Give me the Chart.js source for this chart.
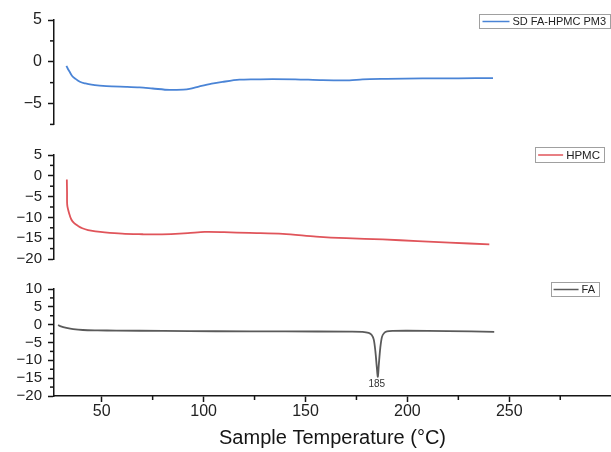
<!DOCTYPE html>
<html>
<head>
<meta charset="utf-8">
<script src="https://cdn.jsdelivr.net/npm/chart.js@4.4.1/dist/chart.umd.min.js"></script>
<style>
  html, body { margin: 0; padding: 0; background: #fff; }
  #wrap { position: relative; width: 611px; height: 452px; overflow: hidden; }
  canvas { position: absolute; left: 0; }
</style>
</head>
<body>
<div id="wrap">
  <canvas id="pm3" width="611" height="140" style="top:0px"></canvas>
  <canvas id="hpmc" width="611" height="134" style="top:140px"></canvas>
  <canvas id="fa" width="611" height="178" style="top:274px"></canvas>
</div>
<script>
// SD FA-HPMC PM3 (top panel)
const pm3Temp = [32.7, 33.5, 34.4, 35.5, 36.9, 39.3, 42, 45, 49, 55, 62, 68.6, 75, 83.3, 90, 93.1, 98, 104, 109.3, 117.6, 125, 133.8, 145, 158.4, 171.6, 178, 190, 207.4, 225, 242];
const pm3Heat = [-0.5, -0.9, -1.26, -1.7, -2.0, -2.4, -2.6, -2.75, -2.85, -2.95, -3.0, -3.07, -3.2, -3.37, -3.33, -3.25, -2.95, -2.62, -2.41, -2.15, -2.1, -2.07, -2.1, -2.2, -2.22, -2.1, -2.05, -2.0, -1.98, -1.95];

// HPMC (middle panel)
const hpmcTemp = [32.9, 33.0, 33.1, 34, 35.1, 36.5, 38.4, 40.5, 43.3, 47, 51.5, 60, 70, 76, 84, 92.3, 100.5, 110, 122.5, 138.9, 155.2, 170, 187.9, 205, 220.6, 240.2];
const hpmcHeat = [-0.9, -4, -7.07, -9, -10.5, -11.4, -12.05, -12.6, -13.05, -13.35, -13.6, -13.9, -14.05, -14.1, -14.0, -13.8, -13.5, -13.55, -13.74, -13.97, -14.6, -15.0, -15.3, -15.7, -16.05, -16.5];

// FA (bottom panel)
const faTemp = [28.6, 30, 32.7, 36, 40.8, 48, 57.2, 80, 106, 140, 171.6, 178, 181, 182.5, 183.5, 184.3, 185, 185.5, 186, 186.7, 187.5, 188.5, 190, 193, 200, 220, 242.6];
const faHeat = [-0.1, -0.5, -0.9, -1.25, -1.5, -1.6, -1.67, -1.75, -1.85, -1.9, -1.94, -2.0, -2.3, -2.9, -4.2, -7.5, -12, -14.6, -11, -6.5, -3.5, -2.4, -1.9, -1.75, -1.7, -1.8, -2.0];
const faPeaks = [185];

const xMinor = [75, 125, 175, 225, 275];

const FONT = "'Liberation Sans', Arial, sans-serif";
const INK = "#151515";
const AXIS_LEFT = 54;

function toXY(xs, ys) {
  return xs.map((x, i) => ({ x: x, y: ys[i] }));
}

const minorTicks = {
  id: "minorTicks",
  afterDraw(chart, args, opts) {
    const ctx = chart.ctx;
    ctx.save();
    ctx.strokeStyle = INK;
    ctx.lineWidth = 1.5;
    const ys = chart.scales.y;
    (opts.y || []).forEach(v => {
      const py = ys.getPixelForValue(v);
      ctx.beginPath();
      ctx.moveTo(ys.right - 4, py);
      ctx.lineTo(ys.right, py);
      ctx.stroke();
    });
    const xs = chart.scales.x;
    if (xs.options.display) {
      (opts.x || []).forEach(v => {
        const px = xs.getPixelForValue(v);
        ctx.beginPath();
        ctx.moveTo(px, xs.top);
        ctx.lineTo(px, xs.top + 4);
        ctx.stroke();
      });
    }
    ctx.restore();
  }
};

const boxLegend = {
  id: "boxLegend",
  afterDraw(chart, args, opts) {
    const ctx = chart.ctx;
    const ds = chart.data.datasets[0];
    ctx.save();
    ctx.font = opts.size + "px " + FONT;
    const tw = ctx.measureText(ds.label).width;
    const w = opts.line + 7 + tw + 3;
    const x0 = opts.right - w;
    const y0 = opts.top;
    ctx.strokeStyle = "#a0a0a0";
    ctx.lineWidth = 1;
    ctx.strokeRect(Math.round(x0) + 0.5, y0 + 0.5, Math.round(w), opts.h);
    ctx.strokeStyle = ds.borderColor;
    ctx.lineWidth = 1.5;
    ctx.beginPath();
    ctx.moveTo(x0 + 3, y0 + opts.h / 2 + 0.5);
    ctx.lineTo(x0 + 3 + opts.line, y0 + opts.h / 2 + 0.5);
    ctx.stroke();
    ctx.fillStyle = "#222";
    ctx.textBaseline = "middle";
    ctx.fillText(ds.label, x0 + opts.line + 6, y0 + opts.h / 2 + 1);
    ctx.restore();
  }
};

const peakLabel = {
  id: "peakLabel",
  afterDraw(chart, args, opts) {
    if (!opts.peaks) return;
    const ctx = chart.ctx;
    const data = chart.data.datasets[0].data;
    const low = Math.min(...data.map(p => p.y));
    ctx.save();
    ctx.font = "10px " + FONT;
    ctx.fillStyle = "#333";
    ctx.textAlign = "center";
    ctx.textBaseline = "top";
    opts.peaks.forEach(t => {
      const px = chart.scales.x.getPixelForValue(t);
      const py = chart.scales.y.getPixelForValue(low);
      ctx.fillText(String(t), px, py + 3);
    });
    ctx.restore();
  }
};

function makePanel(id, cfg) {
  const showX = !!cfg.showX;
  return new Chart(document.getElementById(id), {
    type: "line",
    data: {
      datasets: [{
        label: cfg.label,
        data: toXY(cfg.xs, cfg.ys),
        borderColor: cfg.color,
        borderWidth: 1.8,
        pointRadius: 0,
        tension: 0.3,
        fill: false
      }]
    },
    options: {
      responsive: false,
      animation: false,
      events: [],
      layout: { padding: { top: cfg.padTop, bottom: cfg.padBottom, left: 0, right: 0 } },
      plugins: {
        legend: { display: false },
        tooltip: { enabled: false },
        minorTicks: { y: cfg.yMinor, x: xMinor },
        boxLegend: cfg.legend,
        peakLabel: { peaks: cfg.peaks }
      },
      scales: {
        x: {
          type: "linear",
          min: 26.6,
          max: 299.9,
          display: showX,
          afterFit: s => { if (showX) s.height = 56; },
          ticks: {
            stepSize: 50,
            includeBounds: false,
            autoSkip: false,
            color: "#222",
            padding: 0,
            maxRotation: 0,
            font: { family: FONT, size: 16 }
          },
          grid: { drawOnChartArea: false, drawTicks: true, tickLength: 6, tickWidth: 1.5, tickColor: INK },
          border: { display: true, color: INK, width: 1.5 },
          title: {
            display: true,
            text: "Sample Temperature (°C)",
            color: "#151515",
            font: { family: FONT, size: 20 },
            padding: { top: 0, bottom: 2 }
          }
        },
        y: {
          min: cfg.yMin,
          max: cfg.yMax,
          afterFit: s => { s.width = AXIS_LEFT; },
          ticks: {
            stepSize: 5,
            includeBounds: false,
            autoSkip: false,
            color: "#222",
            padding: 6,
            font: { family: FONT, size: cfg.tickSize },
            callback: v => String(v).replace("-", "\u2212")
          },
          grid: { drawOnChartArea: false, drawTicks: true, tickLength: 6, tickWidth: 1.5, tickColor: INK },
          border: { display: true, color: INK, width: 1.5 }
        }
      }
    },
    plugins: [minorTicks, boxLegend, peakLabel]
  });
}

makePanel("pm3", {
  label: "SD FA-HPMC PM3",
  xs: pm3Temp, ys: pm3Heat,
  color: "#4a84d6",
  yMin: -7.5, yMax: 5, yMinor: [2.5, -2.5, -7.5],
  padTop: 20, padBottom: 12, tickSize: 16,
  legend: { right: 610, top: 14, h: 14, line: 27, size: 11 }
});

makePanel("hpmc", {
  label: "HPMC",
  xs: hpmcTemp, ys: hpmcHeat,
  color: "#e0545a",
  yMin: -20, yMax: 5, yMinor: [2.5, -2.5, -7.5, -12.5, -17.5],
  padTop: 14, padBottom: 11, tickSize: 15,
  legend: { right: 604, top: 7, h: 15, line: 25, size: 11.5 }
});

makePanel("fa", {
  label: "FA",
  xs: faTemp, ys: faHeat,
  color: "#5a5a5a",
  yMin: -20, yMax: 10, yMinor: [7.5, 2.5, -2.5, -7.5, -12.5, -17.5],
  padTop: 13, padBottom: 0, tickSize: 15,
  showX: true, peaks: faPeaks,
  legend: { right: 599, top: 8, h: 14, line: 25, size: 11 }
});
</script>
</body>
</html>
